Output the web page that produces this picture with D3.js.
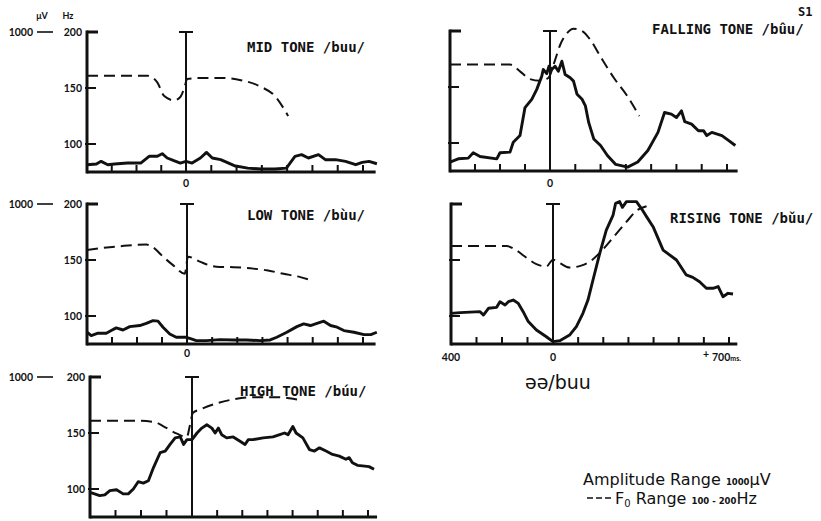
<!DOCTYPE html>
<html lang="en">
<head>
<meta charset="utf-8">
<title>S1 - EMG amplitude and F0, /buu/ tones</title>
<script src="https://d3js.org/d3.v7.min.js"></script>
<style>
  body { margin: 0; background: #fff; }
  svg { display: block; }
  .title { font-family: "DejaVu Sans Mono", monospace; font-weight: bold; font-size: 14px; fill: #111; }
  .num { font-family: Lato, "DejaVu Sans", sans-serif; font-weight: bold; font-size: 10.5px; fill: #111; }
  .legend { font-family: "DejaVu Sans", sans-serif; font-size: 16px; fill: #111; }
</style>
</head>
<body>
<script>
// values: [ms from onset of /b/, value]
// F0 in Hz, EMG amplitude in microvolts
var midF0 = [[-400,161],[-300,161],[-156,161],[-116,155],[-89,143],[-49,139],[-23,142],[-3,153],[4,158],[57,159],[137,159],[217,157],[297,151],[351,143],[404,125]];
var midAmp = [[-400,52],[-362,57],[-343,76],[-316,52],[-289,57],[-236,64],[-183,64],[-149,112],[-116,112],[-96,131],[-76,100],[-49,81],[-23,64],[0,76],[24,64],[57,100],[81,140],[104,100],[137,88],[191,45],[244,28],[297,21],[351,21],[397,28],[431,112],[457,124],[484,100],[524,124],[551,88],[591,88],[631,76],[671,52],[697,69],[724,76],[755,59]];

var fallF0 = [[-400,170],[-160,170],[-120,164],[-80,157],[-40,155.5],[-7,158],[20,174],[40,187.5],[67,198],[93,202],[127,200],[160,192],[200,177],[253,158],[307,141.5],[353,124]];
var fallAmp = [[-400,64],[-367,87],[-327,92],[-307,130],[-280,104],[-213,87],[-200,130],[-160,135],[-147,205],[-120,253],[-100,453],[-73,512],[-53,583],[-33,677],[-27,725],[-13,696],[-4,748],[7,725],[20,748],[33,713],[47,784],[60,689],[80,666],[93,642],[107,548],[127,512],[140,465],[153,347],[173,229],[200,182],[227,111],[260,47],[307,28],[347,64],[387,146],[427,276],[453,418],[480,406],[500,382],[520,430],[533,352],[560,335],[587,288],[607,288],[620,253],[640,276],[680,253],[707,217],[733,182]];

var lowF0 = [[-400,159],[-269,162.3],[-163,163.8],[-136,161.3],[-96,153],[-56,145.4],[-9,137.7],[4,153],[51,148.5],[117,144],[184,143.6],[264,142.3],[317,140.8],[384,137.7],[451,134.7],[497,131.6]];
var lowAmp = [[-400,84],[-383,60],[-356,77],[-323,77],[-303,96],[-283,115],[-256,100],[-229,124],[-189,132],[-163,148],[-136,167],[-116,163],[-96,120],[-69,72],[-43,48],[-3,48],[17,36],[37,24],[77,24],[131,31],[184,29],[237,29],[291,24],[331,29],[357,48],[397,84],[437,124],[464,144],[491,132],[511,144],[544,163],[571,132],[597,120],[624,96],[664,84],[704,67],[731,67],[755,84]];

var riseF0 = [[-400,162.5],[-182,162.5],[-143,158.5],[-104,152],[-65,146.3],[-26,144.2],[0,150.3],[27,147.3],[66,143.3],[112,145],[152,149.4],[186,156.4],[239,170],[292,184],[332,194],[372,198]];
var riseAmp = [[-400,219],[-364,224],[-286,231],[-273,207],[-253,255],[-221,262],[-208,302],[-188,279],[-175,302],[-156,314],[-136,290],[-117,231],[-97,160],[-65,100],[-26,52],[0,17],[27,24],[66,64],[93,124],[119,219],[139,314],[159,457],[186,648],[212,814],[239,921],[249,1005],[265,1017],[276,976],[292,1017],[332,1017],[351,969],[372,910],[398,838],[438,671],[491,600],[530,493],[556,476],[583,445],[610,398],[636,398],[657,410],[676,338],[696,362],[716,357]];

var highF0 = [[-400,161],[-230,161],[-151,160],[-112,156],[-59,149.4],[-20,146.5],[-9,156],[4,168],[33,171],[99,176.5],[164,180],[243,182],[336,182],[388,181],[441,179]];
var highAmp = [[-400,176],[-382,165],[-362,153],[-342,158],[-322,188],[-296,195],[-270,165],[-250,165],[-230,200],[-211,252],[-191,242],[-171,259],[-151,353],[-125,459],[-105,471],[-86,518],[-66,565],[-46,572],[-33,518],[-20,553],[0,553],[20,600],[39,635],[59,659],[79,635],[92,600],[105,635],[118,588],[138,565],[164,572],[191,541],[211,518],[224,553],[243,553],[283,565],[322,572],[349,588],[368,600],[382,588],[401,647],[414,600],[441,565],[467,482],[487,471],[507,494],[533,471],[559,447],[586,435],[612,412],[625,424],[638,388],[658,369],[678,365],[704,360],[724,341]];

var hzTicks = [200, 150, 100];
var msTicks = [-300, -200, -100, 100, 200, 300, 400, 500, 600, 700];

// panel layout
var panels = [
  {title: "MID TONE /buu/", f0: midF0, amp: midAmp, left: 87, zero: 186, x700: 363, end: 750, top: 32, labels: true, zeroLabel: 183, tx: 247, ty: 52},
  {title: "FALLING TONE /bûu/", f0: fallF0, amp: fallAmp, left: 450, zero: 550, x700: 727, end: 742, top: 31, labels: false, zeroLabel: 183, tx: 652, ty: 34},
  {title: "LOW TONE /bùu/", f0: lowF0, amp: lowAmp, left: 87, zero: 187, x700: 363, end: 750, top: 204, labels: true, zeroLabel: 353, tx: 247, ty: 220},
  {title: "RISING TONE /bǔu/", f0: riseF0, amp: riseAmp, left: 451, zero: 553, x700: 729, end: 733, top: 204, labels: false, zeroLabel: 357, tx: 670, ty: 223},
  {title: "HIGH TONE /búu/", f0: highF0, amp: highAmp, left: 90, zero: 192, x700: 368, end: 736, top: 377, labels: true, zeroLabel: null, tx: 240, ty: 396}
];
var panelHeight = 140;

var svg = d3.select("body").append("svg")
    .attr("width", 821)
    .attr("height", 521);

panels.forEach(function (p) {
    var g = svg.append("g");
    var x = d3.scaleLinear().domain([-400, 0, 700]).range([p.left, p.zero, p.x700]);
    var yHz = d3.scaleLinear().domain([75, 200]).range([p.top + panelHeight, p.top]);
    var yAmp = d3.scaleLinear().domain([0, 1000]).range([p.top + panelHeight, p.top]);
    var bottom = yHz(75);

    // x axis with upward ticks
    g.append("line")
        .attr("x1", x(-400)).attr("x2", x(p.end))
        .attr("y1", bottom).attr("y2", bottom)
        .attr("stroke", "#111").attr("stroke-width", 3);
    g.selectAll(".xt").data(msTicks).enter().append("line")
        .attr("x1", function (d) { return x(d); })
        .attr("x2", function (d) { return x(d); })
        .attr("y1", bottom).attr("y2", bottom - 7)
        .attr("stroke", "#111").attr("stroke-width", 2);

    // y axis
    g.append("line")
        .attr("x1", x(-400)).attr("x2", x(-400))
        .attr("y1", yHz(200) - 1.5).attr("y2", bottom + 1.5)
        .attr("stroke", "#111").attr("stroke-width", 3);
    g.selectAll(".yt").data(hzTicks).enter().append("line")
        .attr("x1", function (d) { return d === 200 ? x(-400) : x(-400) - 2; })
        .attr("x2", function (d) { return x(-400) + (d === 200 ? 11 : 9); })
        .attr("y1", function (d) { return yHz(d); })
        .attr("y2", function (d) { return yHz(d); })
        .attr("stroke", "#111")
        .attr("stroke-width", function (d) { return d === 200 ? 3 : 2; });

    if (p.labels) {
        g.selectAll(".yl").data(hzTicks).enter().append("text")
            .attr("class", "num")
            .attr("x", x(-400) - 5)
            .attr("y", function (d) { return yHz(d) + 4; })
            .attr("text-anchor", "end")
            .text(function (d) { return d; });
        g.append("text").attr("class", "num")
            .attr("x", 33).attr("y", yHz(200) + 4)
            .attr("text-anchor", "end").text("1000");
        g.append("line")
            .attr("x1", 37).attr("x2", 53)
            .attr("y1", yHz(200)).attr("y2", yHz(200))
            .attr("stroke", "#111").attr("stroke-width", 1.6);
    }

    // onset line with cap
    g.append("line")
        .attr("x1", x(0)).attr("x2", x(0))
        .attr("y1", yHz(200)).attr("y2", bottom)
        .attr("stroke", "#111").attr("stroke-width", 2);
    g.append("line")
        .attr("x1", x(0) - 7).attr("x2", x(0) + 7)
        .attr("y1", yHz(200)).attr("y2", yHz(200))
        .attr("stroke", "#111").attr("stroke-width", 2);

    if (p.zeroLabel) {
        g.append("text").attr("class", "num")
            .attr("x", x(0)).attr("y", p.zeroLabel + 4)
            .attr("text-anchor", "middle").text("0");
    }

    // F0 (dashed)
    g.append("path")
        .datum(p.f0)
        .attr("fill", "none")
        .attr("stroke", "#111")
        .attr("stroke-width", 2)
        .attr("stroke-dasharray", "11,6")
        .attr("d", d3.line()
            .x(function (d) { return x(d[0]); })
            .y(function (d) { return yHz(d[1]); })
            .curve(d3.curveMonotoneX));

    // EMG amplitude (solid)
    g.append("path")
        .datum(p.amp)
        .attr("fill", "none")
        .attr("stroke", "#111")
        .attr("stroke-width", 2.9)
        .attr("stroke-linejoin", "round")
        .attr("d", d3.line()
            .x(function (d) { return x(d[0]); })
            .y(function (d) { return yAmp(d[1]); }));

    g.append("text").attr("class", "title")
        .attr("x", p.tx).attr("y", p.ty)
        .text(p.title);

    if (p.title.indexOf("RISING") === 0) {
        g.append("text").attr("class", "num")
            .attr("x", x(-400)).attr("y", p.zeroLabel + 4)
            .attr("text-anchor", "middle").text("400");
        g.append("text").attr("class", "num")
            .attr("x", x(700) - 26).attr("y", p.zeroLabel + 1)
            .text("+");
        g.append("text").attr("class", "num")
            .attr("x", x(700) - 17).attr("y", p.zeroLabel + 4)
            .text("700")
            .append("tspan").style("font-size", "7px").text("ms.");
        g.append("text").attr("class", "legend")
            .style("font-size", "19px")
            .attr("x", x(-110)).attr("y", 389)
            .text("əə/buu");
    }
});

// unit headers
svg.append("text").attr("class", "num").attr("x", 42).attr("y", 19)
    .attr("text-anchor", "middle").style("font-size", "9px").text("μV");
svg.append("text").attr("class", "num").attr("x", 68).attr("y", 19)
    .attr("text-anchor", "middle").style("font-size", "9px").text("Hz");

svg.append("text").attr("class", "num").attr("x", 798).attr("y", 16)
    .style("font-family", "'DejaVu Sans Mono', monospace").style("font-size", "12px")
    .text("S1");

// legend
var lg = svg.append("g");
var l1 = lg.append("text").attr("class", "legend").attr("x", 583).attr("y", 485);
l1.append("tspan").text("Amplitude Range ");
l1.append("tspan").style("font-size", "8.5px").style("font-weight", "bold").text("1000");
l1.append("tspan").text("μV");

lg.append("line")
    .attr("x1", 587).attr("x2", 612).attr("y1", 498).attr("y2", 498)
    .attr("stroke", "#111").attr("stroke-width", 1.6).attr("stroke-dasharray", "6,3");
var l2 = lg.append("text").attr("class", "legend").attr("x", 615).attr("y", 504);
l2.append("tspan").text("F");
l2.append("tspan").attr("dy", 3).style("font-size", "10px").text("0");
l2.append("tspan").attr("dy", -3).text(" Range ");
l2.append("tspan").style("font-size", "8.5px").style("font-weight", "bold").text("100 - 200");
l2.append("tspan").text("Hz");
</script>
</body>
</html>
